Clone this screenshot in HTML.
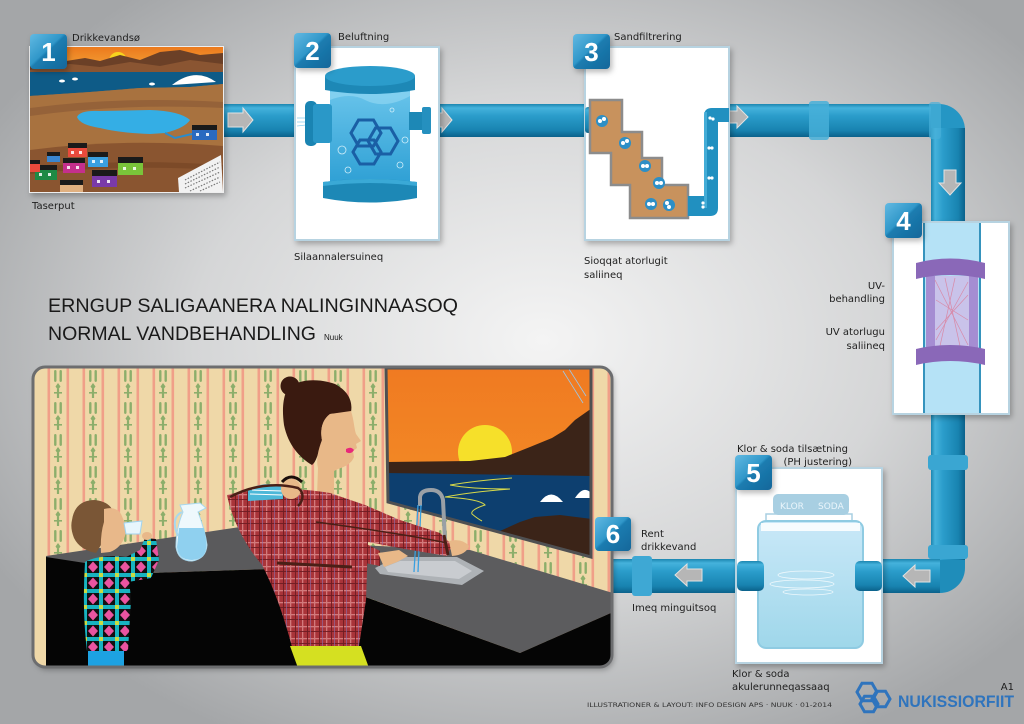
<!DOCTYPE html>
<html><head><meta charset="utf-8">
<style>
html,body{margin:0;padding:0;width:1024px;height:724px;overflow:hidden;background:#ccc}
svg{display:block}
.l{font-family:"DejaVu Sans","Liberation Sans",sans-serif;font-size:10px;fill:#1e1e1e}
.n{font-family:"Liberation Sans",sans-serif;font-weight:bold;font-size:26px;fill:#fff}
</style></head><body>
<svg width="1024" height="724" viewBox="0 0 1024 724" xmlns="http://www.w3.org/2000/svg">
<defs>
 <radialGradient id="bg" cx="0.53" cy="0.47" r="0.62">
  <stop offset="0" stop-color="#f4f4f4"/>
  <stop offset="0.55" stop-color="#d5d6d7"/>
  <stop offset="1" stop-color="#a4a6a8"/>
 </radialGradient>
 <linearGradient id="ph" x1="0" y1="0" x2="0" y2="1">
  <stop offset="0" stop-color="#1c86b0"/>
  <stop offset="0.12" stop-color="#45b2dc"/>
  <stop offset="0.35" stop-color="#2b9dcb"/>
  <stop offset="0.8" stop-color="#1883b0"/>
  <stop offset="1" stop-color="#0b628b"/>
 </linearGradient>
 <linearGradient id="pv" x1="0" y1="0" x2="1" y2="0">
  <stop offset="0" stop-color="#1c86b0"/>
  <stop offset="0.12" stop-color="#45b2dc"/>
  <stop offset="0.35" stop-color="#2b9dcb"/>
  <stop offset="0.8" stop-color="#1883b0"/>
  <stop offset="1" stop-color="#0b628b"/>
 </linearGradient>
 <linearGradient id="bd" x1="0" y1="0" x2="1" y2="1">
  <stop offset="0" stop-color="#62b9e2"/>
  <stop offset="0.45" stop-color="#3097c9"/>
  <stop offset="0.5" stop-color="#1b7cb0"/>
  <stop offset="1" stop-color="#15679a"/>
 </linearGradient>
 <linearGradient id="sky1" x1="0" y1="0" x2="0" y2="1">
  <stop offset="0" stop-color="#ec7a1d"/><stop offset="1" stop-color="#f5ab3d"/>
 </linearGradient>
 <linearGradient id="sky2" x1="0" y1="0" x2="0" y2="1">
  <stop offset="0" stop-color="#f07a22"/><stop offset="1" stop-color="#f49326"/>
 </linearGradient>
 <linearGradient id="tk" x1="0" y1="0" x2="0" y2="1">
  <stop offset="0" stop-color="#6cc6ec"/><stop offset="1" stop-color="#2d9fd4"/>
 </linearGradient>
 <linearGradient id="tk5" x1="0" y1="0" x2="0" y2="1">
  <stop offset="0" stop-color="#c9e8f8"/><stop offset="1" stop-color="#9fd7ea"/>
 </linearGradient>
 <filter id="sh" x="-20%" y="-20%" width="140%" height="140%">
  <feDropShadow dx="2" dy="3" stdDeviation="3" flood-color="#000" flood-opacity="0.28"/>
 </filter>
 <pattern id="wp" patternUnits="userSpaceOnUse" x="40.5" y="367" width="35" height="32">
  <rect width="35" height="32" fill="#efd8a8"/>
  <rect x="7" width="2.6" height="32" fill="#f09f88"/>
  <rect x="26" width="2.6" height="32" fill="#f09f88"/>
  <rect x="13.6" y="3" width="2.4" height="12" rx="1.2" fill="#8cae6b"/>
  <rect x="19" y="3" width="2.4" height="12" rx="1.2" fill="#8cae6b"/>
  <path d="M17.5,16 L20,19.5 L17.5,23 L15,19.5Z" fill="#8cae6b"/>
  <rect x="16.4" y="22" width="2.2" height="9" fill="#8cae6b"/>
  <rect x="13.5" y="25" width="8" height="1.6" fill="#8cae6b"/>
 </pattern>
 <pattern id="pl" patternUnits="userSpaceOnUse" x="0" y="0" width="12" height="12">
  <rect width="12" height="12" fill="#a93439"/>
  <rect x="0" y="2" width="12" height="1.3" fill="#d27a7c"/>
  <rect x="2" y="0" width="1.3" height="12" fill="#d27a7c"/>
  <rect x="7" y="0" width="0.9" height="12" fill="#6e1c22"/>
  <rect x="0" y="7" width="12" height="0.9" fill="#6e1c22"/>
  <rect x="10" y="0" width="0.6" height="12" fill="#8c70b0"/>
 </pattern>
 <pattern id="kd" patternUnits="userSpaceOnUse" x="83" y="557" width="16" height="16">
  <rect width="16" height="16" fill="#111"/>
  <rect x="0" y="0" width="16" height="4" fill="#17b3c0"/>
  <rect x="0" y="0" width="4" height="16" fill="#17b3c0"/>
  <rect x="0" y="0" width="4" height="4" fill="#c9dc42"/>
  <path d="M10,4.5 L15,10 L10,15.5 L5,10Z" fill="#ea54a0"/>
 </pattern>
 <clipPath id="c1"><rect x="30" y="47" width="193" height="145"/></clipPath>
 <clipPath id="kc"><rect x="33" y="367" width="579" height="300" rx="12"/></clipPath>
 <clipPath id="wc"><polygon points="386,368 591,368 591,557 388,502"/></clipPath>
</defs>

<rect width="1024" height="724" fill="url(#bg)"/>

<!-- ===== PIPES ===== -->
<rect x="222" y="104" width="76" height="33" fill="url(#ph)"/>
<rect x="432" y="104" width="158" height="33" fill="url(#ph)"/>
<rect x="729" y="104" width="210" height="33" fill="url(#ph)"/>
<path d="M931,104 H939 A26,26 0 0 1 965,130 V140 H931 Z" fill="#2596c4"/>
<rect x="931" y="128" width="34" height="96" fill="url(#pv)"/>
<rect x="809" y="101" width="20" height="39" rx="3" fill="#47afd8" opacity="0.85"/>
<rect x="929" y="102" width="12" height="37" rx="3" fill="#47afd8" opacity="0.7"/>
<rect x="931" y="412" width="34" height="156" fill="url(#pv)"/>
<path d="M931,560 H965 V568 A25,25 0 0 1 940,593 H931 Z" fill="#1f8dba"/>
<rect x="880" y="559" width="60" height="34" fill="url(#ph)"/>
<rect x="928" y="455" width="40" height="15" rx="3" fill="#3aa6d2"/>
<rect x="928" y="545" width="40" height="14" rx="3" fill="#3aa6d2"/>
<rect x="612" y="559" width="126" height="34" fill="url(#ph)"/>
<rect x="632" y="556" width="20" height="40" rx="3" fill="#3ea8d4"/>

<!-- arrows -->
<g fill="#b6b6b6" stroke="#e2e2e2" stroke-width="1">
 <path d="M228,113 H243 V108 L253,120 L243,132 V127 H228 Z"/>
 <path d="M428,113 H442 V108 L452,120 L442,132 V127 H428 Z"/>
 <path d="M722,111 H737 V106 L748,117 L737,128 V123 H722 Z"/>
 <path d="M944,170 V183 H939 L950,195 L961,183 H956 V170 Z"/>
 <path d="M930,570 H915 V565 L903,576 L915,587 V582 H930 Z"/>
 <path d="M702,569 H687 V564 L675,575 L687,586 V581 H702 Z"/>
</g>

<!-- ===== STEP 1 ===== -->
<g filter="url(#sh)"><rect x="29" y="46" width="195" height="147" fill="#eee"/></g>
<g clip-path="url(#c1)">
 <rect x="30" y="47" width="193" height="145" fill="#9c6a3c"/>
 <rect x="30" y="47" width="193" height="27" fill="url(#sky1)"/>
 <circle cx="118" cy="61" r="9" fill="#f7d41e"/>
 <path d="M30,66 L60,62 L85,58 L100,61 L120,55 L140,60 L160,52 L180,50 L200,55 L223,53 L223,76 L30,76 Z" fill="#6b4027"/>
 <path d="M30,70 L70,64 L100,67 L130,62 L160,66 L190,60 L223,64 L223,76 L30,76Z" fill="#8a5532"/>
 <path d="M30,72 L223,72 L223,84 L190,87 L140,88 L90,92 L30,96 Z" fill="#0e5b87"/>
 <path d="M172,85 Q195,67 216,82 Z" fill="#fff"/>
 <ellipse cx="62" cy="81" rx="3" ry="1.5" fill="#fff"/>
 <ellipse cx="75" cy="79" rx="3" ry="1.5" fill="#fff"/>
 <ellipse cx="152" cy="84" rx="3" ry="1.5" fill="#fff"/>
 <path d="M30,96 L90,92 L140,88 L190,87 L223,84 L223,148 Q150,142 30,152 Z" fill="#a8723f"/>
 <path d="M30,108 Q120,96 223,102 L223,108 Q120,103 30,116Z" fill="#956239"/>
 <path d="M77,117 Q80,110 100,111 L150,110 Q180,111 190,120 Q185,128 165,133 L150,134 Q120,133 100,128 Q80,125 77,117Z" fill="#34aee5"/>
 <path d="M165,133 L175,138 L192,134" stroke="#2a8ccc" stroke-width="2" fill="none"/>
 <path d="M30,150 Q120,138 223,146 L223,192 L30,192Z" fill="#8a5530"/>
 <path d="M30,168 Q120,158 223,165 L223,170 Q120,164 30,174Z" fill="#7c4a28"/>
 <g>
  <rect x="68" y="143" width="19" height="5" fill="#1a1a1a"/><rect x="68" y="148" width="19" height="9" fill="#e84a3c"/>
  <rect x="47" y="152" width="13" height="4" fill="#1a1a1a"/><rect x="47" y="156" width="13" height="6" fill="#3a86d0"/>
  <rect x="88" y="152" width="20" height="5" fill="#1a1a1a"/><rect x="88" y="157" width="20" height="10" fill="#3aa0e0"/>
  <rect x="63" y="158" width="22" height="5" fill="#1a1a1a"/><rect x="63" y="163" width="22" height="10" fill="#c4308c"/>
  <rect x="118" y="157" width="25" height="6" fill="#1a1a1a"/><rect x="118" y="163" width="25" height="12" fill="#7ac43a"/>
  <rect x="35" y="165" width="22" height="5" fill="#1a1a1a"/><rect x="35" y="170" width="22" height="10" fill="#1e8a44"/>
  <rect x="92" y="170" width="25" height="6" fill="#1a1a1a"/><rect x="92" y="176" width="25" height="11" fill="#7a3aa8"/>
  <rect x="60" y="180" width="23" height="5" fill="#1a1a1a"/><rect x="60" y="185" width="23" height="7" fill="#e0b080"/>
  <rect x="30" y="160" width="10" height="4" fill="#1a1a1a"/><rect x="30" y="164" width="10" height="8" fill="#e84a3c"/>
  <rect x="192" y="125" width="25" height="5" fill="#1a1a1a"/><rect x="192" y="130" width="25" height="10" fill="#2a6ac0"/>
  <g fill="#fff" opacity="0.85">
   <rect x="71" y="151" width="3" height="3"/><rect x="79" y="151" width="3" height="3"/>
   <rect x="92" y="160" width="3" height="3"/><rect x="100" y="160" width="3" height="3"/>
   <rect x="67" y="166" width="3" height="3"/><rect x="76" y="166" width="3" height="3"/>
   <rect x="123" y="167" width="3" height="3"/><rect x="133" y="167" width="3" height="3"/>
   <rect x="39" y="173" width="3" height="3"/><rect x="48" y="173" width="3" height="3"/>
   <rect x="97" y="180" width="3" height="3"/><rect x="107" y="180" width="3" height="3"/>
   <rect x="196" y="133" width="3" height="3"/><rect x="206" y="133" width="3" height="3"/>
  </g>
 </g>
 <path d="M178,178 L221,155 L223,192 L179,192Z" fill="#f2f2f2"/>
 <g stroke="#777" stroke-width="1.2" stroke-dasharray="1.5,1.5">
  <line x1="185" y1="180" x2="220" y2="162"/><line x1="185" y1="184" x2="220" y2="167"/>
  <line x1="185" y1="188" x2="220" y2="172"/><line x1="190" y1="191" x2="220" y2="177"/>
  <line x1="200" y1="191" x2="220" y2="182"/>
 </g>
</g>

<!-- ===== STEP 2 ===== -->
<rect x="295" y="47" width="144" height="193" fill="#fff" stroke="#b7d3e1" stroke-width="2" filter="url(#sh)"/>
<g stroke="#fff" stroke-width="0.8">
 <line x1="296" y1="116" x2="307" y2="117"/><line x1="296" y1="120" x2="307" y2="120"/>
 <line x1="296" y1="124" x2="307" y2="123"/><line x1="296" y1="128" x2="307" y2="126"/>
</g>
<g stroke="#8fd0ef" stroke-width="0.8">
 <line x1="297" y1="118" x2="306" y2="118"/><line x1="297" y1="122" x2="306" y2="122"/><line x1="297" y1="126" x2="306" y2="125"/>
</g>
<rect x="330" y="84" width="80" height="102" fill="url(#tk)"/>
<path d="M330,100 Q350,92 365,100 Q385,110 410,96 L410,92 L330,92Z" fill="#8fd6f2" opacity="0.7"/>
<rect x="305" y="101" width="12" height="45" rx="5" fill="#1a84b2"/>
<rect x="313" y="104" width="19" height="39" rx="3" fill="#2a98c8"/>
<path d="M325,76 L415,76 L415,90 Q370,98 325,90 Z" fill="#1d88b6"/>
<ellipse cx="370" cy="76" rx="45" ry="10" fill="#2b9ccb"/>
<path d="M323,182 Q370,176 417,182 L417,198 Q370,207 323,198 Z" fill="#1d88b6"/>
<path d="M323,182 Q370,176 417,182 L417,186 Q370,180 323,186 Z" fill="#3aa9d6"/>
<rect x="409" y="112" width="16" height="18" fill="#1d88b6"/>
<rect x="422" y="107" width="9" height="27" rx="2" fill="#2590bf"/>
<g fill="none" stroke="#1a5fa5" stroke-width="3">
 <polygon points="381,133 373.5,146 358.5,146 351,133 358.5,120 373.5,120"/>
 <polygon points="398,141 390.5,154 375.5,154 368,141 375.5,128 390.5,128"/>
 <polygon points="381,152 374,164 360,164 353,152 360,140 374,140"/>
</g>
<g fill="none" stroke="#cfeefa" stroke-width="0.8">
 <circle cx="342" cy="150" r="4"/><circle cx="348" cy="170" r="3"/><circle cx="400" cy="165" r="3"/>
 <circle cx="392" cy="110" r="2"/><circle cx="405" cy="140" r="3"/>
</g>

<!-- ===== STEP 3 ===== -->
<rect x="585" y="47" width="144" height="193" fill="#fff" stroke="#b7d3e1" stroke-width="2" filter="url(#sh)"/>
<rect x="585" y="107" width="12" height="26" rx="3" fill="url(#ph)"/>
<path d="M590,100 L622,100 L622,132 L642,132 L642,158 L662,158 L662,185 L688,185 L688,218 L630,218 L630,185 L611,185 L611,153 L590,153 Z" fill="#c8925d" stroke="#8c8c8c" stroke-width="2.5"/>
<path d="M688,196 H704 V116 Q704,108 712,108 H729 V122 H718 V208 Q718,216 710,216 H688 Z" fill="#2190c0"/>
<rect x="704" y="112" width="3" height="96" fill="#52b8e0" opacity="0.7"/>
<g fill="#2d8fc6">
 <circle cx="602" cy="121" r="6"/><circle cx="625" cy="143" r="6"/><circle cx="645" cy="166" r="6"/>
 <circle cx="659" cy="183" r="6"/><circle cx="651" cy="204" r="6"/><circle cx="669" cy="205" r="6"/>
</g>
<g fill="#fff">
 <circle cx="600" cy="121" r="2"/><circle cx="604" cy="119" r="2"/>
 <circle cx="623" cy="143" r="2"/><circle cx="627" cy="141" r="2"/>
 <circle cx="643" cy="166" r="2"/><circle cx="647" cy="166" r="2"/>
 <circle cx="657" cy="183" r="2"/><circle cx="661" cy="183" r="2"/>
 <circle cx="649" cy="204" r="2"/><circle cx="653" cy="204" r="2"/>
 <circle cx="667" cy="203" r="2"/><circle cx="669" cy="207" r="2"/>
 <circle cx="710" cy="118" r="1.6"/><circle cx="713" cy="119" r="1.6"/>
 <circle cx="709" cy="148" r="1.6"/><circle cx="712" cy="148" r="1.6"/>
 <circle cx="709" cy="178" r="1.6"/><circle cx="712" cy="178" r="1.6"/>
 <circle cx="703" cy="203" r="1.6"/><circle cx="703" cy="207" r="1.6"/>
</g>

<!-- ===== STEP 4 ===== -->
<rect x="893" y="222" width="116" height="192" fill="#fff" stroke="#b7d3e1" stroke-width="2" filter="url(#sh)"/>
<rect x="923" y="223" width="58" height="190" fill="#b5e2f6"/>
<line x1="924" y1="223" x2="924" y2="413" stroke="#3593bd" stroke-width="2"/>
<line x1="980" y1="223" x2="980" y2="413" stroke="#3593bd" stroke-width="2"/>
<rect x="926" y="276" width="52" height="72" fill="#c9c3ea"/>
<rect x="926" y="276" width="9" height="72" fill="#a58dd2"/>
<rect x="969" y="276" width="9" height="72" fill="#a58dd2"/>
<g stroke="#d88aa8" stroke-width="0.7">
 <line x1="935" y1="280" x2="968" y2="345"/><line x1="968" y1="282" x2="936" y2="340"/>
 <line x1="945" y1="278" x2="960" y2="346"/><line x1="936" y1="300" x2="968" y2="320"/>
 <line x1="936" y1="330" x2="968" y2="295"/><line x1="955" y1="278" x2="940" y2="346"/>
</g>
<path d="M916,263 Q950,254 985,263 L985,279 Q950,271 916,279 Z" fill="#8a68b8"/>
<path d="M916,349 Q950,341 985,349 L985,365 Q950,357 916,365 Z" fill="#8a68b8"/>

<!-- ===== STEP 5 ===== -->
<rect x="736" y="468" width="146" height="195" fill="#fff" stroke="#b7d3e1" stroke-width="2" filter="url(#sh)"/>
<rect x="773" y="494" width="76" height="21" rx="5" fill="#a8cfe2"/>
<text x="780" y="509" font-family="DejaVu Sans,sans-serif" font-size="9" fill="#eaf5fb">KLOR</text>
<text x="818" y="509" font-family="DejaVu Sans,sans-serif" font-size="9" fill="#eaf5fb">SODA</text>
<path d="M766,522 V514 H852 V522" fill="none" stroke="#a8cfe2" stroke-width="1.5"/>
<rect x="758" y="521" width="105" height="127" rx="8" fill="url(#tk5)" stroke="#8fcbe2" stroke-width="2"/>
<rect x="761" y="523" width="99" height="8" fill="#fff" opacity="0.85"/>
<g fill="none" stroke="#eef8fc" stroke-width="0.8">
 <ellipse cx="806" cy="575" rx="28" ry="4"/><ellipse cx="802" cy="584" rx="32" ry="4"/><ellipse cx="808" cy="592" rx="25" ry="3"/>
</g>
<rect x="737" y="561" width="27" height="30" rx="5" fill="url(#ph)"/>
<rect x="855" y="561" width="27" height="30" rx="5" fill="url(#ph)"/>

<!-- ===== BADGES ===== -->
<g filter="url(#sh)">
 <rect x="30" y="34" width="37" height="35" rx="4" fill="url(#bd)"/>
 <rect x="294" y="33" width="37" height="35" rx="4" fill="url(#bd)"/>
 <rect x="573" y="34" width="37" height="35" rx="4" fill="url(#bd)"/>
 <rect x="885" y="203" width="37" height="35" rx="4" fill="url(#bd)"/>
 <rect x="735" y="455" width="37" height="35" rx="4" fill="url(#bd)"/>
 <rect x="595" y="517" width="36" height="34" rx="4" fill="url(#bd)"/>
</g>
<g class="n" text-anchor="middle">
 <text x="48.5" y="61">1</text>
 <text x="312.5" y="60">2</text>
 <text x="591.5" y="61">3</text>
 <text x="903.5" y="230">4</text>
 <text x="753.5" y="482">5</text>
 <text x="613" y="543">6</text>
</g>

<!-- ===== KITCHEN ===== -->
<rect x="33" y="367" width="579" height="300" rx="12" fill="#efd8a8" filter="url(#sh)"/>
<g clip-path="url(#kc)">
 <rect x="33" y="367" width="579" height="300" fill="url(#wp)"/>
 <!-- window -->
 <g clip-path="url(#wc)">
  <rect x="385" y="367" width="208" height="192" fill="url(#sky2)"/>
  <circle cx="485" cy="452" r="27" fill="#f6e02a"/>
  <path d="M385,462 L470,461 L505,457 L530,447 L552,438 L565,430 L575,420 L592,408 L592,480 L385,480Z" fill="#3b2418"/>
  <path d="M385,473 L592,476 L592,558 L387,502Z" fill="#0d3f6f"/>
  <path d="M500,531 L520,522 L535,517 L560,515 L592,519 L592,558Z" fill="#3b2418"/>
  <path d="M540,502 Q551,487 563,502Z" fill="#fff"/>
  <path d="M575,498 Q584,484 592,494 L592,498Z" fill="#fff"/>
  <path d="M450,485 Q480,480 512,478 M450,485 Q470,489 510,489 M510,489 Q470,492 445,497 Q480,499 485,505 Q470,510 472,514 Q478,519 482,521" fill="none" stroke="#d6d84a" stroke-width="1"/>
  <g stroke="#9cc8e8" stroke-width="0.8"><line x1="563" y1="371" x2="583" y2="403"/><line x1="569" y1="369" x2="586" y2="396"/></g>
 </g>
 <polygon points="386,368 591,368 591,557 388,502" fill="none" stroke="#4f5052" stroke-width="3"/>
 <!-- counters -->
 <polygon points="46,556 240,527 300,527 300,568 150,573 46,558" fill="#5a5a5c"/>
 <polygon points="355,545 470,550 613,593 613,612 520,653 355,593" fill="#5c5c5e"/>
 <polygon points="46,557 150,573 300,568 360,595 520,653 613,612 613,667 46,667" fill="#050505"/>
 <!-- sink -->
 <polygon points="375,568 397,557 457,557 484,571 462,585 380,574" fill="#aeb2b6"/>
 <polygon points="385,567 400,561 455,561 472,571 459,579 388,572" fill="#c9ccd0"/>
 <path d="M420,506 L420,497 Q421,490 431,490 Q441,490 443,500 L445,541" fill="none" stroke="#9aa0a6" stroke-width="4"/>
 <g stroke="#3aa0e0" stroke-width="1.3"><line x1="418" y1="505" x2="414" y2="572"/><line x1="421" y1="505" x2="418" y2="572"/></g>
 <!-- kid -->
 <path d="M72,520 Q75,500 95,500 Q112,502 114,515 L110,522 Q102,532 101,545 L96,553 Q80,550 74,538 Q70,528 72,520Z" fill="#7a5636"/>
 <path d="M104,509 Q116,506 121,514 L124,521 L127,525 L125,536 Q121,548 110,552 L101,553 Q100,535 104,522Z" fill="#e8b88a"/>
 <path d="M85,562 Q100,554 127,557 L131,600 L128,651 L87,651 Q82,610 85,562Z" fill="url(#kd)"/>
 <path d="M118,561 L140,550 L145,538 L156,539 L159,560 L151,578 L128,582Z" fill="url(#kd)"/>
 <ellipse cx="147" cy="536" rx="5" ry="4" fill="#e8b88a"/>
 <path d="M124,523 L142,521 L140,534 L126,534Z" fill="#e8f6fc" stroke="#9fd3ee" stroke-width="1"/>
 <rect x="88" y="651" width="36" height="16" fill="#1da2e2"/>
 <!-- pitcher -->
 <path d="M180,505 L200,503 L206,508 L198,512 Q205,530 207,545 Q206,559 192,561 Q178,561 176,547 Q176,528 183,512Z" fill="#eef8fc" stroke="#a8d8ee" stroke-width="1"/>
 <path d="M179,528 L204,528 Q207,545 206,548 Q205,559 192,560 Q178,560 177,547Z" fill="#8fd0ef"/>
 <path d="M182,512 Q170,518 178,536" stroke="#a8d8ee" stroke-width="2" fill="none"/>
 <!-- woman -->
 <path d="M286,392 C292,380 315,377 335,384 C348,391 353,401 351,412 L330,414 C322,420 320,430 322,440 C318,455 316,462 312,465 C300,458 288,445 284,425 C282,410 283,400 286,392 Z" fill="#3a1a10"/>
 <circle cx="290" cy="386" r="9.5" fill="#3a1a10"/>
 <path d="M330,414 L351,411 C354,420 354,428 356,434 L361,441 L356,444 L357,448 L353,451 L354,457 C352,463 345,467 338,469 L334,471 L334,494 L317,496 L318,468 C316,460 318,450 322,440 C320,430 322,420 330,414 Z" fill="#e8b888"/>
 <path d="M346,449 Q351,446 354,450 Q351,455 346,452Z" fill="#e8287a"/>
 <path d="M227,495 C250,489 290,486 330,493 L365,505 L400,520 L440,533 L452,545 L447,556 L405,549 L368,542 L366,600 L359,646 L292,647 C285,620 275,590 262,565 C245,545 232,520 227,495 Z" fill="url(#pl)"/>
 <path d="M355,538 L380,551 L380,566 L355,561Z" fill="url(#pl)"/>
 <path d="M378,553 L399,550 L408,556 L397,562 L384,567Z" fill="#e8b888"/>
 <path d="M449,541 Q462,538 469,546 Q466,555 452,556Z" fill="#e8b888"/>
 <line x1="444" y1="535" x2="448" y2="555" stroke="#4a1f16" stroke-width="3"/>
 <path d="M248,490 Q264,480 283,487 L283,499 L248,501Z" fill="#4db8d8"/>
 <g stroke="#fff" stroke-width="1"><line x1="252" y1="490" x2="282" y2="491"/><line x1="250" y1="494" x2="282" y2="495"/></g>
 <circle cx="291" cy="489" r="10" fill="#e8b888"/>
 <path d="M282,482 Q291,472 302,482" stroke="#1a0e0a" stroke-width="3" fill="none"/>
 <path d="M230,497 C250,486 275,482 298,488 C304,492 304,500 298,506" stroke="#4a1f16" stroke-width="2.5" fill="none"/>
 <path d="M316,522 C360,528 410,535 447,543" stroke="#4a1f16" stroke-width="1.5" fill="none"/>
 <path d="M277,563 L352,567" stroke="#4a1f16" stroke-width="3"/>
 <path d="M290,646 L361,646 L369,668 L298,668Z" fill="#d5e021"/>
</g>
<rect x="33" y="367" width="579" height="300" rx="12" fill="none" stroke="#6c6d6f" stroke-width="3"/>
<!-- badge 6 on top of frame -->
<rect x="595" y="517" width="36" height="34" rx="4" fill="url(#bd)"/>
<text class="n" x="613" y="543" text-anchor="middle">6</text>

<!-- ===== TEXT ===== -->
<g class="l">
 <text x="72" y="41">Drikkevandsø</text>
 <text x="32" y="209">Taserput</text>
 <text x="338" y="40">Beluftning</text>
 <text x="294" y="260">Silaannalersuineq</text>
 <text x="614" y="40">Sandfiltrering</text>
 <text x="584" y="264">Sioqqat atorlugit</text>
 <text x="584" y="278">saliineq</text>
 <text x="885" y="289" text-anchor="end">UV-</text>
 <text x="885" y="302" text-anchor="end">behandling</text>
 <text x="885" y="335" text-anchor="end">UV atorlugu</text>
 <text x="885" y="349" text-anchor="end">saliineq</text>
 <text x="737" y="452">Klor &amp; soda tilsætning</text>
 <text x="852" y="465" text-anchor="end">(PH justering)</text>
 <text x="641" y="537">Rent</text>
 <text x="641" y="550">drikkevand</text>
 <text x="632" y="611">Imeq minguitsoq</text>
 <text x="732" y="677">Klor &amp; soda</text>
 <text x="732" y="690">akulerunneqassaaq</text>
 <text x="1014" y="690" text-anchor="end">A1</text>
</g>
<g font-family="Liberation Sans,sans-serif" font-size="19.5" fill="#1a1a1a">
 <text x="48" y="312" textLength="410" lengthAdjust="spacingAndGlyphs">ERNGUP SALIGAANERA NALINGINNAASOQ</text>
 <text x="48" y="340" textLength="268" lengthAdjust="spacingAndGlyphs">NORMAL VANDBEHANDLING</text>
 <text x="324" y="340" font-size="8">Nuuk</text>
</g>
<text x="587" y="707" font-family="DejaVu Sans,sans-serif" font-size="6.5" fill="#333" textLength="245" lengthAdjust="spacingAndGlyphs">ILLUSTRATIONER &amp; LAYOUT: INFO DESIGN APS · NUUK · 01-2014</text>
<g fill="none" stroke="#2f74bd" stroke-width="3">
 <polygon points="877,692 872,700.7 862,700.7 857,692 862,683.3 872,683.3"/>
 <polygon points="890,699 885.5,706.8 876.5,706.8 872,699 876.5,691.2 885.5,691.2"/>
 <polygon points="878,704 873.5,711.8 864.5,711.8 860,704 864.5,696.2 873.5,696.2"/>
</g>
<text x="898" y="707" font-family="Liberation Sans,sans-serif" font-weight="bold" font-size="17" fill="#2f74bd" textLength="116" lengthAdjust="spacingAndGlyphs">NUKISSIORFIIT</text>
</svg>
</body></html>
